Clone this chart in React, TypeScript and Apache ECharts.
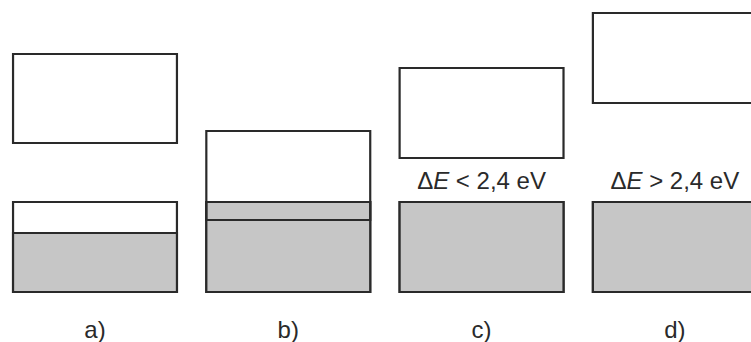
import React, { useEffect, useRef } from "react";
import * as echarts from "echarts";

// Panels (band diagrams) and their energy levels (arbitrary energy units)
const categories = ["a)", "b)", "c)", "d)"];
const valenceBottom = [0, 0, 0, 0];
const valenceTop = [90, 90, 90, 90];
const filledTo = [59, 90, 90, 90];
const conductionBottom = [149, 72, 134, 189];
const conductionTop = [238, 161, 224, 279];
const gapLabels = ["", "", "<", ">"];
const gapValue = "2,4 eV";

const HALF = 0.424;
const STROKE = "#2a2a2a";
const GRAY = "#c6c6c6";
const FONT = "'Liberation Sans', Arial, Helvetica, sans-serif";

export default function App() {
  const ref = useRef<HTMLDivElement>(null);
  useEffect(() => {
    document.body.style.margin = "0";
    const chart = echarts.init(ref.current!, null, { renderer: "svg" });
    const data = categories.map((c, i) => [
      i,
      valenceBottom[i],
      valenceTop[i],
      filledTo[i],
      conductionBottom[i],
      conductionTop[i],
    ]);
    chart.setOption({
      animation: false,
      backgroundColor: "#ffffff",
      grid: { left: 0, right: 0, top: 0, bottom: 0 },
      xAxis: { type: "value", min: -0.4915, max: 3.394, show: false },
      yAxis: { type: "value", min: -50, max: 292, show: false },
      series: [
        {
          type: "custom",
          clip: false,
          data,
          renderItem: (params: any, api: any) => {
            const i = params.dataIndex;
            const cx = api.value(0);
            const x0 = api.coord([cx - HALF, 0])[0];
            const x1 = api.coord([cx + HALF, 0])[0];
            const y = (v: number) => api.coord([cx, v])[1];
            const vb0 = y(api.value(1));
            const vb1 = y(api.value(2));
            const fl = y(api.value(3));
            const cb0 = y(api.value(4));
            const cb1 = y(api.value(5));
            const lineStyle = { stroke: STROKE, lineWidth: 2.2 };
            const children: any[] = [
              {
                type: "rect",
                shape: { x: x0, y: vb1, width: x1 - x0, height: vb0 - vb1 },
                style: { fill: "#ffffff", ...lineStyle },
              },
              {
                type: "rect",
                shape: { x: x0, y: fl, width: x1 - x0, height: vb0 - fl },
                style: { fill: GRAY, ...lineStyle },
              },
              {
                type: "rect",
                shape: { x: x0, y: cb1, width: x1 - x0, height: cb0 - cb1 },
                style: { fill: "none", ...lineStyle },
              },
              {
                type: "text",
                style: {
                  x: (x0 + x1) / 2,
                  y: y(-37),
                  text: categories[i],
                  fill: "#2a2a2a",
                  font: `24px ${FONT}`,
                  align: "center",
                  verticalAlign: "middle",
                },
              },
            ];
            if (gapLabels[i]) {
              children.push({
                type: "text",
                style: {
                  x: (x0 + x1) / 2,
                  y: y(api.value(2) + 22),
                  text: `{n|Δ}{i|E}{n| ${gapLabels[i]} ${gapValue}}`,
                  align: "center",
                  verticalAlign: "middle",
                  rich: {
                    n: { fontSize: 24, fontFamily: FONT, fill: "#2a2a2a" },
                    i: {
                      fontSize: 24,
                      fontFamily: FONT,
                      fontStyle: "italic",
                      fill: "#2a2a2a",
                    },
                  },
                },
              });
            }
            return { type: "group", children };
          },
        },
      ],
    });
    return () => chart.dispose();
  }, []);
  return <div ref={ref} style={{ width: 751, height: 342 }} />;
}
